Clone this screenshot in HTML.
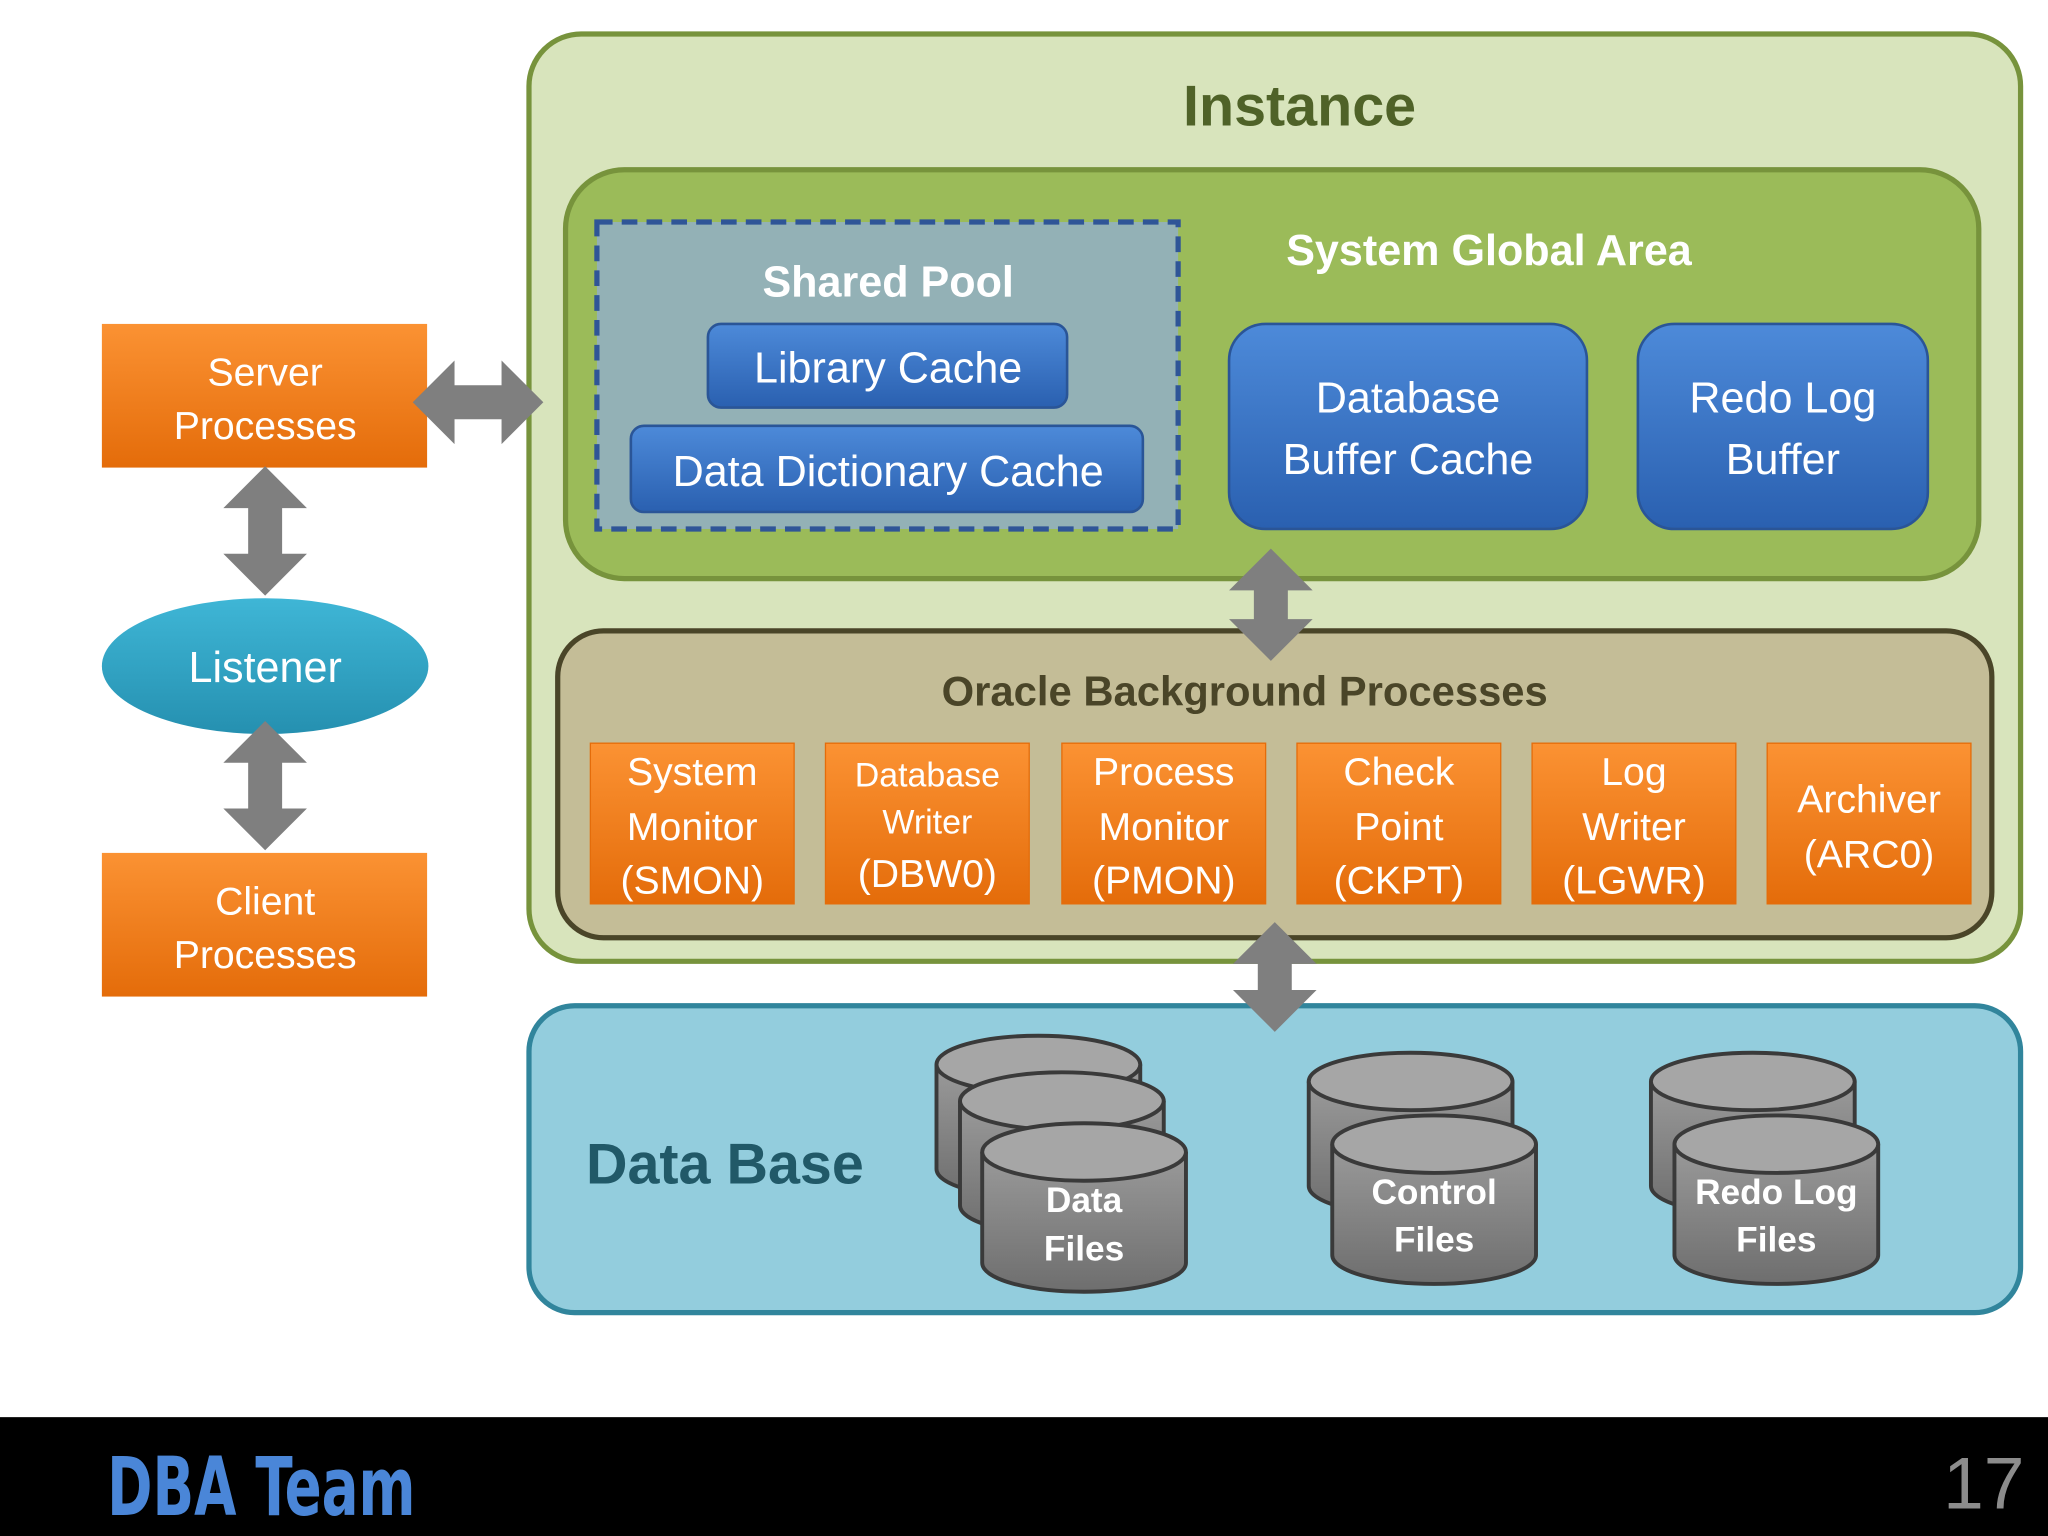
<!DOCTYPE html>
<html><head><meta charset="utf-8"><style>html,body{margin:0;padding:0;background:#fff}svg{display:block}</style></head>
<body>
<svg width="2048" height="1536" viewBox="0 0 1568 1176" preserveAspectRatio="none" xmlns="http://www.w3.org/2000/svg" font-family="'Liberation Sans','DejaVu Sans',sans-serif">
<defs>
<linearGradient id="bl" x1="0" y1="0" x2="0" y2="1"><stop offset="0" stop-color="#4d8ad9"/><stop offset="1" stop-color="#2a60b0"/></linearGradient>
<linearGradient id="or" x1="0" y1="0" x2="0" y2="1"><stop offset="0" stop-color="#fb9233"/><stop offset="1" stop-color="#e46c0a"/></linearGradient>
<linearGradient id="cy" x1="0" y1="0" x2="0" y2="1"><stop offset="0" stop-color="#9a9a9a"/><stop offset="1" stop-color="#6e6e6e"/></linearGradient>
<linearGradient id="ls" x1="0" y1="0" x2="0" y2="1"><stop offset="0" stop-color="#3fb6d6"/><stop offset="1" stop-color="#2590b0"/></linearGradient>
</defs>
<rect width="1568" height="1176" fill="#fff"/>
<rect x="405" y="26" width="1142" height="710" rx="40" fill="#d8e4bc" stroke="#77933c" stroke-width="4"/>
<text x="995" y="96" text-anchor="middle" font-size="44" font-weight="bold" fill="#4f6228">Instance</text>
<rect x="433" y="130" width="1082" height="313" rx="45" fill="#9bbb59" stroke="#77933c" stroke-width="4"/>
<text x="1140" y="203" text-anchor="middle" font-size="33" font-weight="bold" fill="#fff">System Global Area</text>
<rect x="457" y="170" width="445" height="235" fill="#93b1b6" stroke="#2f5597" stroke-width="4" stroke-dasharray="12,7"/>
<text x="680" y="227" text-anchor="middle" font-size="33" font-weight="bold" fill="#fff">Shared Pool</text>
<rect x="542" y="248" width="275" height="64" rx="10" fill="url(#bl)" stroke="#2a5597" stroke-width="2"/>
<text x="680" y="293" text-anchor="middle" font-size="33" fill="#fff">Library Cache</text>
<rect x="483" y="326" width="392" height="66" rx="10" fill="url(#bl)" stroke="#2a5597" stroke-width="2"/>
<text x="680" y="372" text-anchor="middle" font-size="33" fill="#fff">Data Dictionary Cache</text>
<rect x="941" y="248" width="274" height="157" rx="28" fill="url(#bl)" stroke="#2a5597" stroke-width="2"/>
<text x="1078" y="316" text-anchor="middle" font-size="33" fill="#fff">Database</text>
<text x="1078" y="363" text-anchor="middle" font-size="33" fill="#fff">Buffer Cache</text>
<rect x="1254" y="248" width="222" height="157" rx="28" fill="url(#bl)" stroke="#2a5597" stroke-width="2"/>
<text x="1365" y="316" text-anchor="middle" font-size="33" fill="#fff">Redo Log</text>
<text x="1365" y="363" text-anchor="middle" font-size="33" fill="#fff">Buffer</text>
<rect x="427" y="483" width="1098" height="235" rx="35" fill="#c4bd97" stroke="#4a4528" stroke-width="4"/>
<text x="953" y="540" text-anchor="middle" font-size="32" font-weight="bold" fill="#4a4528">Oracle Background Processes</text>
<g fill="url(#or)" stroke="#e46c0a" stroke-width="1">
<rect x="452" y="569" width="156" height="123"/><rect x="632" y="569" width="156" height="123"/><rect x="813" y="569" width="156" height="123"/><rect x="993" y="569" width="156" height="123"/><rect x="1173" y="569" width="156" height="123"/><rect x="1353" y="569" width="156" height="123"/>
</g>
<g fill="#fff" font-size="30" text-anchor="middle">
<text x="530" y="601">System</text><text x="530" y="643">Monitor</text><text x="530" y="684">(SMON)</text>
<text x="710" y="602" font-size="26">Database</text><text x="710" y="638" font-size="26">Writer</text><text x="710" y="679">(DBW0)</text>
<text x="891" y="601">Process</text><text x="891" y="643">Monitor</text><text x="891" y="684">(PMON)</text>
<text x="1071" y="601">Check</text><text x="1071" y="643">Point</text><text x="1071" y="684">(CKPT)</text>
<text x="1251" y="601">Log</text><text x="1251" y="643">Writer</text><text x="1251" y="684">(LGWR)</text>
<text x="1431" y="622">Archiver</text><text x="1431" y="664">(ARC0)</text>
</g>
<rect x="405" y="770" width="1142" height="235" rx="35" fill="#93cddd" stroke="#31859c" stroke-width="4"/>
<text x="555" y="906" text-anchor="middle" font-size="44" font-weight="bold" fill="#215968">Data Base</text>
<g stroke="#3a3a3a" stroke-width="3" fill="url(#cy)">
<path d="M717,815 v80 a78,22 0 0 0 156,0 v-80"/><ellipse cx="795" cy="815" rx="78" ry="22" fill="#a6a6a6"/>
<path d="M735,843 v80 a78,22 0 0 0 156,0 v-80"/><ellipse cx="813" cy="843" rx="78" ry="22" fill="#a6a6a6"/>
<path d="M752,882 v85 a78,22 0 0 0 156,0 v-85"/><ellipse cx="830" cy="882" rx="78" ry="22" fill="#a6a6a6"/>
<path d="M1002,828 v80 a78,22 0 0 0 156,0 v-80"/><ellipse cx="1080" cy="828" rx="78" ry="22" fill="#a6a6a6"/>
<path d="M1020,876 v85 a78,22 0 0 0 156,0 v-85"/><ellipse cx="1098" cy="876" rx="78" ry="22" fill="#a6a6a6"/>
<path d="M1264,828 v80 a78,22 0 0 0 156,0 v-80"/><ellipse cx="1342" cy="828" rx="78" ry="22" fill="#a6a6a6"/>
<path d="M1282,876 v85 a78,22 0 0 0 156,0 v-85"/><ellipse cx="1360" cy="876" rx="78" ry="22" fill="#a6a6a6"/>
</g>
<g fill="#fff" font-size="27" font-weight="bold" text-anchor="middle">
<text x="830" y="928">Data</text><text x="830" y="965">Files</text>
<text x="1098" y="922">Control</text><text x="1098" y="958">Files</text>
<text x="1360" y="922">Redo Log</text><text x="1360" y="958">Files</text>
</g>
<rect x="78" y="248" width="249" height="110" fill="url(#or)"/>
<text x="203" y="295" text-anchor="middle" font-size="30" fill="#fff">Server</text>
<text x="203" y="336" text-anchor="middle" font-size="30" fill="#fff">Processes</text>
<rect x="78" y="653" width="249" height="110" fill="url(#or)"/>
<text x="203" y="700" text-anchor="middle" font-size="30" fill="#fff">Client</text>
<text x="203" y="741" text-anchor="middle" font-size="30" fill="#fff">Processes</text>
<ellipse cx="203" cy="510" rx="125" ry="52" fill="url(#ls)"/>
<text x="203" y="522" text-anchor="middle" font-size="33" fill="#fff">Listener</text>
<g fill="#7f7f7f">
<path d="M203,357 l32,32 h-19 v35 h19 l-32,32 l-32,-32 h19 v-35 h-19 z"/>
<path d="M203,552 l32,32 h-19 v35 h19 l-32,32 l-32,-32 h19 v-35 h-19 z"/>
<path d="M316,308 l32,-32 v19 h36 v-19 l32,32 l-32,32 v-19 h-36 v19 z"/>
<path d="M973,420 l32,32 h-19 v22 h19 l-32,32 l-32,-32 h19 v-22 h-19 z"/>
<path d="M976,706 l32,32 h-19 v20 h19 l-32,32 l-32,-32 h19 v-20 h-19 z"/>
</g>
<rect x="0" y="1085" width="1568" height="91" fill="#000"/>
<text x="82" y="1160" font-size="62" font-weight="bold" fill="#4a86d8" font-family="'DejaVu Sans Condensed','Liberation Sans Narrow',sans-serif" transform="translate(82,0) scale(0.75,1) translate(-82,0)">DBA Team</text>
<text x="1550" y="1155" text-anchor="end" font-size="56" fill="#8c8c8c">17</text>
</svg>
</body></html>
